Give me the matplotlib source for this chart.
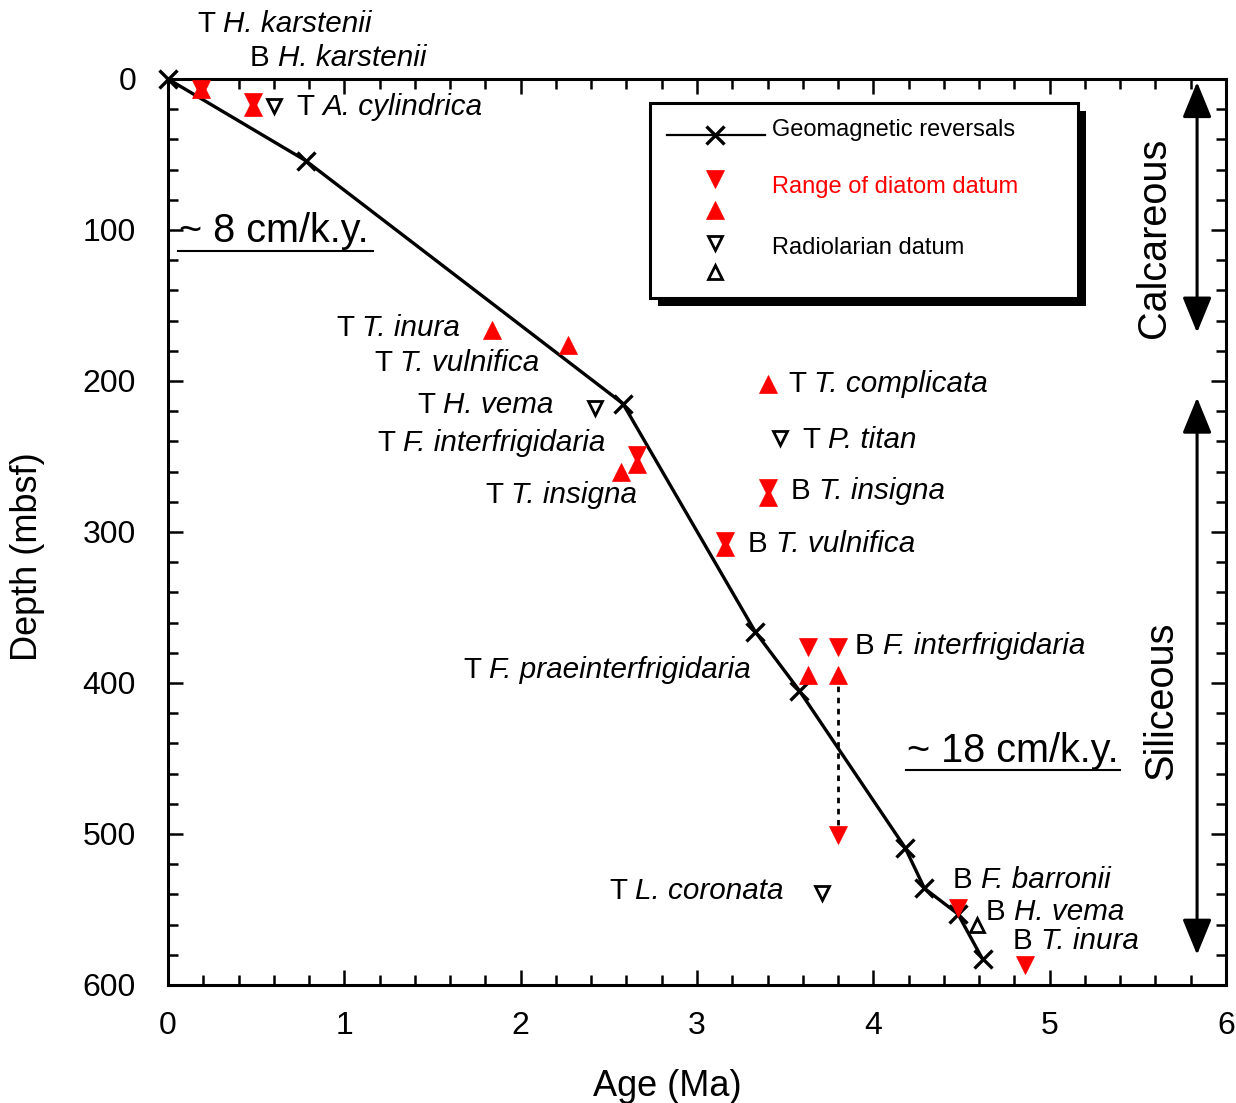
import numpy as np
import matplotlib.pyplot as plt
from matplotlib.patches import Rectangle
from matplotlib.lines import Line2D

plt.rcParams['font.family'] = ['Liberation Sans', 'DejaVu Sans']

# geomagnetic reversals (age Ma, depth mbsf)
geo_age = [0.0, 0.78, 2.58, 3.33, 3.58, 4.18, 4.29, 4.48, 4.62]
geo_depth = [0, 54, 215, 366, 405, 509, 536, 553, 583]

# diatom datum ranges: down triangles (upper limit), up triangles (lower limit)
dia_down_age = [0.19, 0.48, 2.66, 3.40, 3.16, 3.63, 3.80, 3.80, 4.48, 4.86]
dia_down_depth = [6.5, 15, 249, 271, 306, 376.5, 376.5, 501, 549, 587]
dia_up_age = [0.19, 0.48, 1.84, 2.27, 2.66, 2.57, 3.40, 3.40, 3.16, 3.63, 3.80]
dia_up_depth = [6.5, 18.5, 166, 176, 255, 260, 202, 277, 310, 395, 395]

# F. interfrigidaria range (dotted)
range_age = [3.80, 3.80]
range_depth = [395, 501]

# radiolarian datums
rad_down_age = [0.60, 2.42, 3.47, 3.71]
rad_down_depth = [18, 218, 238, 539]
rad_up_age = [4.59]
rad_up_depth = [560]

# labels: prefix, species, age, depth
lab_prefix = ['T', 'B', 'T', 'T', 'T', 'T', 'T', 'T', 'T', 'T', 'B', 'B', 'B',
              'T', 'T', 'B', 'B', 'B']
lab_name = ['H. karstenii', 'H. karstenii', 'A. cylindrica', 'T. inura',
            'T. vulnifica', 'H. vema', 'F. interfrigidaria', 'T. insigna',
            'T. complicata', 'P. titan', 'T. insigna', 'T. vulnifica',
            'F. interfrigidaria', 'F. praeinterfrigidaria', 'L. coronata',
            'F. barronii', 'H. vema', 'T. inura']
lab_age = [0.164, 0.465, 0.726, 0.953, 1.168, 1.412, 1.185, 1.798, 3.516,
           3.596, 3.533, 3.289, 3.896, 1.673, 2.501, 4.452, 4.639, 4.792]
lab_depth = [-37.7, -14.6, 17.9, 164.2, 187.4, 215.2, 240.4, 274.8, 201.3,
             238.4, 272.2, 307.3, 374.2, 390.1, 537.1, 529.8, 551, 570.2]

fig = plt.figure(figsize=(12.36, 11.03), dpi=100)
ax = fig.add_axes([0.1359, 0.107, 0.856, 0.8214])

ax.plot(geo_age, geo_depth, color='k', lw=2.4, marker='x', ms=13, mew=2.4,
        clip_on=False, zorder=3)
ax.plot(range_age, range_depth, color='k', lw=2, ls=(0, (2, 2)), zorder=2)
ax.plot(dia_down_age, dia_down_depth, ls='none', marker='v', ms=13.5,
        color='red', mew=0.5, zorder=4)
ax.plot(dia_up_age, dia_up_depth, ls='none', marker='^', ms=13.5,
        color='red', mew=0.5, zorder=4)
ax.plot(rad_down_age, rad_down_depth, ls='none', marker='v', ms=10,
        mfc='white', mec='k', mew=2, zorder=4)
ax.plot(rad_up_age, rad_up_depth, ls='none', marker='^', ms=10,
        mfc='white', mec='k', mew=2, zorder=4)

fs = 21.3
for p, n, a, d in zip(lab_prefix, lab_name, lab_age, lab_depth):
    t = ax.text(a, d - 1, p, fontsize=fs, ha='left', va='center_baseline',
                clip_on=False)
    ax.annotate(n, xy=(1, 0), xycoords=t, xytext=(0.278 * fs, 0),
                textcoords='offset points', fontsize=fs, style='italic',
                ha='left', va='bottom', annotation_clip=False)

# sedimentation rates
ax.text(0.06, 101, '~ 8 cm/k.y.', fontsize=28.5, ha='left', va='center')
ax.plot([0.057, 1.16], [113.9, 113.9], color='k', lw=1.5)
ax.text(4.19, 445, '~ 18 cm/k.y.', fontsize=28.5, ha='left', va='center')
ax.plot([4.186, 5.40], [457.6, 457.6], color='k', lw=1.5)

# lithology arrows
arr = dict(arrowstyle='<|-|>,head_length=1.1,head_width=0.45', lw=2.2,
           color='k', mutation_scale=20, shrinkA=0, shrinkB=0)
ax.annotate('', xy=(5.836, 2), xytext=(5.836, 168), arrowprops=arr)
ax.annotate('', xy=(5.836, 211), xytext=(5.836, 580), arrowprops=arr)
ax.text(5.59, 105, 'Calcareous', fontsize=28.5, rotation=90, ha='center', va='center')
ax.text(5.63, 412, 'Siliceous', fontsize=28.5, rotation=90, ha='center', va='center')

# legend box with shadow
bx, by, bw, bh = 0.4556, 0.7583, 0.4045, 0.2152
ax.add_patch(Rectangle((bx + 0.008, by - 0.009), bw, bh, transform=ax.transAxes,
                       facecolor='k', edgecolor='none', zorder=5))
ax.add_patch(Rectangle((bx, by), bw, bh, transform=ax.transAxes,
                       facecolor='white', edgecolor='k', lw=2.2, zorder=6))
ax.add_line(Line2D([0.4716, 0.5643], [0.9382, 0.9382], transform=ax.transAxes,
                   color='k', lw=1.6, zorder=7))
ax.add_line(Line2D([0.517], [0.9382], transform=ax.transAxes, color='k',
                   marker='x', ms=13, mew=2.4, zorder=7))
ax.add_line(Line2D([0.517], [0.8896], transform=ax.transAxes, ls='none',
                   marker='v', ms=13.5, color='red', mew=0.5, zorder=7))
ax.add_line(Line2D([0.517], [0.8554], transform=ax.transAxes, ls='none',
                   marker='^', ms=13.5, color='red', mew=0.5, zorder=7))
ax.add_line(Line2D([0.517], [0.819], transform=ax.transAxes, ls='none',
                   marker='v', ms=10, mfc='white', mec='k', mew=2, zorder=7))
ax.add_line(Line2D([0.517], [0.787], transform=ax.transAxes, ls='none',
                   marker='^', ms=10, mfc='white', mec='k', mew=2, zorder=7))
ax.text(0.5709, 0.9437, 'Geomagnetic reversals', transform=ax.transAxes,
        fontsize=17, va='center', zorder=8)
ax.text(0.5709, 0.8808, 'Range of diatom datum', transform=ax.transAxes,
        fontsize=17, va='center', color='red', zorder=8)
ax.text(0.5709, 0.8135, 'Radiolarian datum', transform=ax.transAxes,
        fontsize=17, va='center', zorder=8)

ax.set_xlim(0, 6)
ax.set_ylim(600, 0)
ax.set_xticks(np.arange(0, 7, 1))
ax.set_xticks(np.arange(0, 6.01, 0.2), minor=True)
ax.set_yticks(np.arange(0, 700, 100))
ax.set_yticks(np.arange(0, 601, 20), minor=True)
ax.tick_params(which='both', direction='in', top=True, right=True, width=1.8)
ax.tick_params(which='major', length=11, labelsize=23)
ax.tick_params(axis='x', which='major', pad=19)
ax.tick_params(axis='y', which='major', pad=23)
ax.tick_params(which='minor', length=7)
for s in ax.spines.values():
    s.set_linewidth(2.2)

ax.set_xlabel('Age (Ma)', fontsize=26)
ax.set_ylabel('Depth (mbsf)', fontsize=26)
ax.xaxis.set_label_coords(0.4716, -0.093)
ax.yaxis.set_label_coords(-0.1163, 0.4724)

fig.savefig('out.png', dpi=100)
